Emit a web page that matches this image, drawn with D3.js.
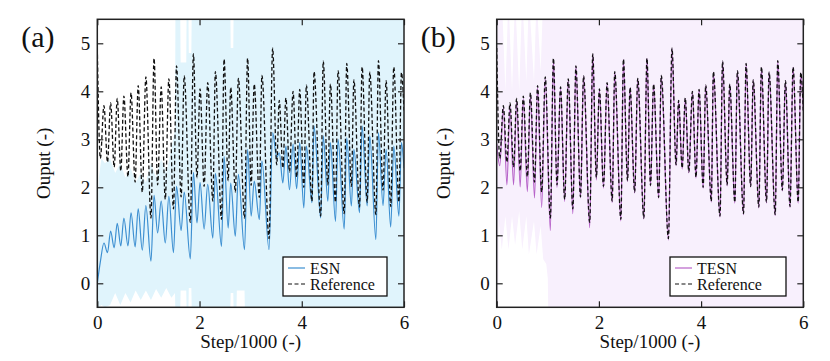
<!DOCTYPE html>
<html>
<head>
<meta charset="utf-8">
<script src="https://cdn.jsdelivr.net/npm/d3@7"></script>
<style>
  body { margin: 0; background: #fff; }
  svg { display: block; }
</style>
</head>
<body>
<div id="chart"></div>
<script>
// times of the turning points (Step/1000), shared by all series
const steps = [0, 0.06, 0.13, 0.20, 0.26, 0.33, 0.39, 0.46, 0.52, 0.60, 0.66, 0.74, 0.80, 0.88, 0.95,
  1.05, 1.11, 1.18, 1.25, 1.33, 1.40, 1.49, 1.55, 1.64, 1.70, 1.82, 1.88, 1.95, 2.01, 2.09, 2.16,
  2.26, 2.31, 2.43, 2.48, 2.56, 2.61, 2.70, 2.76, 2.88, 2.94, 3.01, 3.07, 3.17, 3.22, 3.36, 3.43,
  3.51, 3.56, 3.63, 3.69, 3.76, 3.83, 3.90, 3.96, 4.04, 4.09, 4.20, 4.24, 4.37, 4.42, 4.51, 4.56,
  4.66, 4.71, 4.83, 4.88, 4.97, 5.02, 5.13, 5.18, 5.28, 5.33, 5.45, 5.50, 5.59, 5.65, 5.74, 5.80,
  5.90, 5.95, 6.00];

const refOut = [4.90, 2.60, 3.70, 2.52, 3.76, 2.42, 3.85, 2.34, 3.90, 2.22, 3.97, 2.11, 4.12, 1.90, 4.30,
  1.36, 4.69, 2.05, 4.09, 1.75, 4.26, 1.55, 4.53, 1.80, 4.32, 1.27, 4.78, 2.20, 4.05, 2.02, 4.18,
  1.71, 4.41, 1.33, 4.67, 2.14, 4.08, 1.90, 4.27, 1.36, 4.69, 2.04, 4.15, 1.79, 4.33, 0.93, 4.90,
  2.47, 3.81, 2.40, 3.86, 2.32, 4.00, 2.21, 4.04, 2.00, 4.13, 1.71, 4.41, 1.40, 4.63, 2.05, 4.15,
  1.69, 4.43, 1.45, 4.58, 2.02, 4.24, 1.59, 4.51, 1.69, 4.40, 1.43, 4.64, 1.94, 4.22, 1.60, 4.51,
  1.69, 4.39, 3.60];

const esnOut = [0.00, 0.45, 0.84, 0.64, 1.09, 0.74, 1.25, 0.78, 1.36, 0.78, 1.47, 0.76, 1.55, 0.69, 1.62,
  0.46, 1.83, 1.05, 1.71, 0.84, 1.81, 0.64, 2.02, 1.10, 1.90, 0.51, 2.31, 1.26, 2.10, 1.13, 2.06,
  0.94, 2.29, 0.77, 2.64, 1.15, 2.09, 0.98, 2.27, 0.70, 2.79, 1.40, 2.13, 1.33, 2.55, 0.70, 3.14,
  2.62, 2.72, 2.09, 2.86, 1.95, 2.90, 1.97, 2.93, 1.57, 2.86, 1.68, 3.28, 1.36, 3.07, 1.71, 2.93,
  1.29, 3.00, 1.13, 3.03, 1.61, 2.79, 1.47, 3.28, 1.61, 3.07, 0.91, 3.14, 1.62, 2.79, 1.17, 2.86,
  1.40, 2.93, 2.40];

const tesnOut = [2.90, 2.45, 3.65, 2.05, 3.70, 2.05, 3.80, 2.01, 3.85, 1.91, 3.93, 1.78, 4.08, 1.58, 4.27,
  1.10, 4.66, 2.00, 4.07, 1.70, 4.25, 1.45, 4.52, 1.78, 4.31, 1.16, 4.77, 2.15, 4.04, 1.98, 4.17,
  1.68, 4.40, 1.30, 4.66, 2.12, 4.07, 1.88, 4.26, 1.34, 4.68, 2.02, 4.14, 1.77, 4.32, 0.90, 4.89,
  2.45, 3.80, 2.38, 3.85, 2.30, 3.99, 2.19, 4.03, 1.98, 4.12, 1.69, 4.40, 1.38, 4.62, 2.03, 4.14,
  1.67, 4.42, 1.43, 4.57, 2.00, 4.23, 1.57, 4.50, 1.67, 4.39, 1.41, 4.63, 1.92, 4.21, 1.58, 4.50,
  1.67, 4.38, 3.60];

// shaded spread behind each prediction
const bandAX = [0, 0.03, 0.08, 0.15, 0.25, 0.35, 0.45, 0.55, 0.65, 0.75, 0.85, 0.95, 1.05, 1.15, 1.25,
  1.35, 1.45, 1.52, 1.53, 1.62, 1.63, 1.74, 1.75, 1.78, 1.79, 1.84, 1.85, 2.60, 2.61, 2.66, 2.67,
  2.72, 2.73, 2.88, 2.89, 6.00];
const bandAHi = [1.0, 2.2, 2.6, 2.5, 2.6, 2.3, 2.5, 2.2, 2.4, 2.1, 2.3, 2.1, 2.5, 2.2, 2.6,
  2.3, 2.8, 3.2, 6.0, 6.0, 4.6, 4.6, 6.0, 6.0, 4.8, 4.8, 6.0, 6.0, 4.9, 4.9, 6.0,
  6.0, 6.0, 6.0, 6.0, 6.0];
const bandALo = [-0.7, -0.5, -0.45, -0.5, -0.45, -0.2, -0.45, -0.2, -0.4, -0.15, -0.35, -0.15, -0.35, -0.12, -0.3,
  -0.1, -0.3, -0.2, -0.7, -0.7, -0.15, -0.15, -0.7, -0.7, -0.1, -0.1, -0.7, -0.7, -0.2, -0.2, -0.7,
  -0.7, -0.15, -0.15, -0.7, -0.7];

const bandBX = [0, 0.03, 0.04, 0.10, 0.17, 0.23, 0.30, 0.36, 0.44, 0.50, 0.58, 0.63, 0.73, 0.78, 0.86,
  0.91, 0.97, 1.00, 1.01, 6.00];
const bandBHi = [6.0, 6.0, 6.0, 6.0, 4.0, 6.0, 4.0, 6.0, 4.0, 6.0, 4.2, 6.0, 4.2, 6.0, 4.4,
  6.0, 6.0, 6.0, 6.0, 6.0];
const bandBLo = [-0.7, -0.7, 1.3, 0.7, 1.4, 0.7, 1.4, 0.8, 1.5, 0.7, 1.4, 0.6, 1.3, 0.6, 1.2,
  0.5, 0.4, 0.1, -0.7, -0.7];

const xTicks = [0, 2, 4, 6];
const yTicks = [0, 1, 2, 3, 4, 5];

const FONT = '"Liberation Serif"';
const W = 830, H = 361;

const svg = d3.select("#chart").append("svg")
  .attr("width", W).attr("height", H)
  .attr("viewBox", [0, 0, W, H]);

function drawPanel(o) {
  const x = d3.scaleLinear().domain([0, 6]).range([o.left, o.right]);
  const y = d3.scaleLinear().domain([-0.5, 5.5]).range([o.bottom, o.top]);

  svg.append("clipPath").attr("id", o.id + "-clip")
    .append("rect")
      .attr("x", o.left).attr("y", o.top)
      .attr("width", o.right - o.left).attr("height", o.bottom - o.top);

  const g = svg.append("g").attr("clip-path", `url(#${o.id}-clip)`);

  const area = d3.area()
    .x(d => x(d[0])).y0(d => y(d[1])).y1(d => y(d[2]));
  g.append("path")
    .datum(d3.zip(o.bandX, o.bandLo, o.bandHi))
    .attr("fill", o.bandColor)
    .attr("d", area);

  const line = d3.line()
    .x(d => x(d[0])).y(d => y(d[1]))
    .curve(d3.curveMonotoneX);

  g.append("path")
    .datum(d3.zip(steps, o.values))
    .attr("fill", "none")
    .attr("stroke", o.color)
    .attr("stroke-width", 1.2)
    .attr("d", line);

  g.append("path")
    .datum(d3.zip(steps, refOut))
    .attr("fill", "none")
    .attr("stroke", "#111")
    .attr("stroke-width", 1.3)
    .attr("stroke-dasharray", "4,2.5")
    .attr("d", line);

  // axes, ticks pointing inward on all four sides
  const styleAxis = sel => {
    sel.attr("font-family", null);
    sel.select(".domain").remove();
    sel.selectAll(".tick line").attr("stroke", "#222").attr("stroke-width", 1.2);
    sel.selectAll("text").style("font-family", FONT).style("font-size", "19px").attr("fill", "#111");
  };

  svg.append("g")
    .attr("transform", `translate(0,${o.bottom})`)
    .call(d3.axisBottom(x).tickValues(xTicks).tickSize(-6).tickPadding(8).tickFormat(d3.format("d")))
    .call(styleAxis);
  svg.append("g")
    .attr("transform", `translate(0,${o.top})`)
    .call(d3.axisTop(x).tickValues(xTicks).tickSize(-6).tickFormat(""))
    .call(styleAxis);
  svg.append("g")
    .attr("transform", `translate(${o.left},0)`)
    .call(d3.axisLeft(y).tickValues(yTicks).tickSize(-6).tickPadding(7).tickFormat(d3.format("d")))
    .call(styleAxis);
  svg.append("g")
    .attr("transform", `translate(${o.right},0)`)
    .call(d3.axisRight(y).tickValues(yTicks).tickSize(-6).tickFormat(""))
    .call(styleAxis);

  svg.append("rect")
    .attr("x", o.left).attr("y", o.top)
    .attr("width", o.right - o.left).attr("height", o.bottom - o.top)
    .attr("fill", "none").attr("stroke", "#222").attr("stroke-width", 1.5);

  // labels
  svg.append("text")
    .attr("x", o.left - 76).attr("y", 47)
    .style("font-family", FONT).style("font-size", "30px").attr("fill", "#111")
    .text(o.tag);

  svg.append("text")
    .attr("x", (o.left + o.right) / 2).attr("y", 348)
    .attr("text-anchor", "middle")
    .style("font-family", FONT).style("font-size", "19px").attr("fill", "#111")
    .text("Step/1000 (-)");

  svg.append("text")
    .attr("transform", `translate(${o.left - 47},${(o.top + o.bottom) / 2}) rotate(-90)`)
    .attr("text-anchor", "middle")
    .style("font-family", FONT).style("font-size", "19px").attr("fill", "#111")
    .text("Ouput (-)");

  // legend
  const lg = svg.append("g").attr("transform", `translate(${o.legendX},257)`);
  lg.append("rect")
    .attr("width", o.legendW).attr("height", 39)
    .attr("fill", "#fff").attr("stroke", "#111").attr("stroke-width", 1.3);
  const items = [
    { label: o.name, color: o.color, dash: null, y: 11 },
    { label: "Reference", color: "#111", dash: "4,2.5", y: 27 }
  ];
  items.forEach(it => {
    lg.append("line")
      .attr("x1", 5).attr("x2", 22).attr("y1", it.y).attr("y2", it.y)
      .attr("stroke", it.color).attr("stroke-width", 1.2)
      .attr("stroke-dasharray", it.dash);
    lg.append("text")
      .attr("x", 27).attr("y", it.y + 5.5)
      .style("font-family", FONT).style("font-size", "16px").attr("fill", "#111")
      .text(it.label);
  });
}

drawPanel({
  id: "a", tag: "(a)", name: "ESN",
  left: 97.3, right: 404, top: 19.3, bottom: 307.3,
  values: esnOut, color: "#3d8fd1",
  bandX: bandAX, bandLo: bandALo, bandHi: bandAHi, bandColor: "#e0f4fc",
  legendX: 283, legendW: 104
});

drawPanel({
  id: "b", tag: "(b)", name: "TESN",
  left: 496.7, right: 803.3, top: 19.3, bottom: 307.3,
  values: tesnOut, color: "#b763c9",
  bandX: bandBX, bandLo: bandBLo, bandHi: bandBHi, bandColor: "#f8f0fd",
  legendX: 670, legendW: 116
});
</script>
</body>
</html>
